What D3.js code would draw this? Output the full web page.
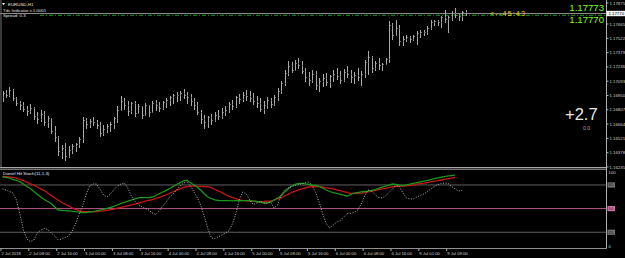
<!DOCTYPE html>
<html><head><meta charset="utf-8">
<script src="https://cdn.jsdelivr.net/npm/d3@7/dist/d3.min.js"></script>
<style>html,body{margin:0;padding:0;background:#000;}svg{display:block;}</style>
</head><body>
<svg id="c" width="625" height="258"></svg>
<script>
// ---------- DATA ----------
const symbol = "EURUSD,H1";
const infoLine2 = "Tds Indicator v.1.0001";
const infoLine3 = "Spread: 0.3";
const indicatorName = "Daniel Hit Stoch(11,1,3)";
const bidPrice = 1.17770;
const levelLine = 1.17752;
const askLabel = "1.17773";
const bidLabel = "1.17770";
const timerLabel = "<--45:43";
const bigValue = "+2.7";
const smallValue = "0.0";

const barHigh = [1.1700,1.1701,1.1704,1.1702,1.1694,1.1690,1.1689,1.1685,1.1687,1.1684,1.1679,1.1681,1.1680,1.1675,1.1673,1.1665,1.1655,1.1646,1.1648,1.1645,1.1647,1.1648,1.1654,1.1674,1.1673,1.1672,1.1674,1.1671,1.1669,1.1666,1.1667,1.1669,1.1674,1.1685,1.1695,1.1693,1.1690,1.1689,1.1690,1.1687,1.1685,1.1688,1.1686,1.1690,1.1691,1.1689,1.1690,1.1693,1.1695,1.1697,1.1699,1.1700,1.1702,1.1699,1.1697,1.1693,1.1689,1.1681,1.1676,1.1675,1.1677,1.1679,1.1681,1.1683,1.1685,1.1689,1.1691,1.1695,1.1697,1.1699,1.1701,1.1700,1.1698,1.1695,1.1693,1.1690,1.1694,1.1693,1.1696,1.1703,1.1710,1.1721,1.1730,1.1729,1.1731,1.1733,1.1730,1.1723,1.1719,1.1721,1.1720,1.1713,1.1717,1.1718,1.1716,1.1721,1.1723,1.1720,1.1722,1.1725,1.1721,1.1719,1.1723,1.1720,1.1731,1.1740,1.1735,1.1730,1.1733,1.1728,1.1733,1.1770,1.1768,1.1771,1.1766,1.1755,1.1756,1.1755,1.1756,1.1760,1.1761,1.1761,1.1765,1.1771,1.1771,1.1771,1.1775,1.1781,1.1775,1.1780,1.1783,1.1777,1.1780,1.1781];
const barLow = [1.1689,1.1693,1.1694,1.1690,1.1685,1.1681,1.1679,1.1675,1.1677,1.1671,1.1667,1.1669,1.1665,1.1663,1.1657,1.1649,1.1635,1.1632,1.1630,1.1633,1.1637,1.1639,1.1643,1.1648,1.1662,1.1663,1.1665,1.1662,1.1654,1.1655,1.1658,1.1659,1.1662,1.1668,1.1680,1.1681,1.1675,1.1677,1.1674,1.1677,1.1672,1.1675,1.1674,1.1679,1.1680,1.1679,1.1681,1.1683,1.1685,1.1687,1.1689,1.1690,1.1692,1.1687,1.1685,1.1681,1.1676,1.1667,1.1662,1.1663,1.1666,1.1669,1.1671,1.1672,1.1675,1.1678,1.1681,1.1683,1.1687,1.1689,1.1690,1.1689,1.1686,1.1683,1.1679,1.1677,1.1682,1.1683,1.1685,1.1690,1.1697,1.1705,1.1715,1.1718,1.1720,1.1722,1.1717,1.1709,1.1705,1.1708,1.1701,1.1699,1.1704,1.1705,1.1703,1.1709,1.1711,1.1707,1.1709,1.1713,1.1708,1.1707,1.1710,1.1705,1.1713,1.1716,1.1718,1.1720,1.1721,1.1720,1.1726,1.1728,1.1751,1.1755,1.1745,1.1745,1.1749,1.1748,1.1750,1.1746,1.1753,1.1755,1.1756,1.1761,1.1765,1.1765,1.1763,1.1768,1.1758,1.1770,1.1773,1.1770,1.1770,1.1775];
const barOpen = [1.1693,1.1698,1.1696,1.1701,1.1692,1.1687,1.1685,1.1682,1.1680,1.1683,1.1674,1.1671,1.1677,1.1668,1.1672,1.1660,1.1653,1.1640,1.1643,1.1635,1.1641,1.1644,1.1646,1.1651,1.1670,1.1666,1.1669,1.1668,1.1665,1.1658,1.1662,1.1664,1.1666,1.1672,1.1681,1.1689,1.1685,1.1680,1.1687,1.1678,1.1684,1.1676,1.1685,1.1679,1.1687,1.1685,1.1683,1.1688,1.1690,1.1693,1.1695,1.1696,1.1698,1.1695,1.1693,1.1689,1.1685,1.1679,1.1671,1.1668,1.1673,1.1670,1.1676,1.1674,1.1679,1.1681,1.1686,1.1684,1.1693,1.1691,1.1696,1.1694,1.1692,1.1689,1.1687,1.1682,1.1685,1.1690,1.1686,1.1693,1.1700,1.1707,1.1718,1.1724,1.1721,1.1727,1.1725,1.1720,1.1713,1.1710,1.1717,1.1705,1.1709,1.1712,1.1708,1.1714,1.1717,1.1714,1.1710,1.1719,1.1717,1.1713,1.1715,1.1713,1.1716,1.1728,1.1733,1.1723,1.1727,1.1725,1.1726,1.1731,1.1765,1.1755,1.1763,1.1749,1.1751,1.1753,1.1751,1.1754,1.1757,1.1758,1.1759,1.1763,1.1768,1.1769,1.1768,1.1773,1.1771,1.1773,1.1777,1.1775,1.1774,1.1778];
const barClose = [1.1698,1.1696,1.1701,1.1692,1.1687,1.1685,1.1682,1.1680,1.1683,1.1674,1.1671,1.1677,1.1668,1.1672,1.1660,1.1653,1.1640,1.1643,1.1635,1.1641,1.1644,1.1646,1.1651,1.1670,1.1666,1.1669,1.1668,1.1665,1.1658,1.1662,1.1664,1.1666,1.1672,1.1681,1.1689,1.1685,1.1680,1.1687,1.1678,1.1684,1.1676,1.1685,1.1679,1.1687,1.1685,1.1683,1.1688,1.1690,1.1693,1.1695,1.1696,1.1698,1.1695,1.1693,1.1689,1.1685,1.1679,1.1671,1.1668,1.1673,1.1670,1.1676,1.1674,1.1679,1.1681,1.1686,1.1684,1.1693,1.1691,1.1696,1.1694,1.1692,1.1689,1.1687,1.1682,1.1685,1.1690,1.1686,1.1693,1.1700,1.1707,1.1718,1.1724,1.1721,1.1727,1.1725,1.1720,1.1713,1.1710,1.1717,1.1705,1.1709,1.1712,1.1708,1.1714,1.1717,1.1714,1.1710,1.1719,1.1717,1.1713,1.1715,1.1713,1.1716,1.1728,1.1733,1.1723,1.1727,1.1725,1.1726,1.1731,1.1765,1.1755,1.1763,1.1749,1.1751,1.1753,1.1751,1.1754,1.1757,1.1758,1.1759,1.1763,1.1768,1.1769,1.1768,1.1773,1.1771,1.1773,1.1777,1.1775,1.1774,1.1778,1.1777];

const stochMain = [74.9,73.6,71.7,69.8,60.9,43.1,22.8,11.4,8.2,10.2,19.0,22.8,24.7,23.5,19.0,15.2,10.2,11.4,13.3,15.2,21.6,30.5,43.1,53.3,67.3,78.7,81.2,81.2,74.9,67.3,64.7,68.5,74.2,78.7,81.2,82.5,76.1,66.0,59.6,55.2,52.4,50.1,48.2,44.4,42.5,47.0,53.3,58.4,64.7,68.5,73.6,78.7,82.5,83.8,78.7,71.1,63.5,53.3,39.3,24.1,12.7,12.1,14.0,16.5,19.0,21.6,30.5,43.1,60.9,71.1,68.5,60.9,55.2,57.1,58.8,57.1,57.1,58.4,50.8,54.6,67.3,73.6,76.1,77.8,79.3,80.6,81.6,83.1,83.8,78.7,69.8,57.1,43.1,30.5,25.4,29.2,33.0,34.9,39.3,43.8,44.0,45.1,48.2,55.8,66.0,73.6,72.3,67.9,64.1,63.5,66.0,70.4,74.9,79.3,78.0,69.8,63.5,62.2,62.2,64.7,66.6,68.5,71.7,74.9,78.0,80.6,81.9,82.5,81.9,78.0,74.9,72.3,73.0];
const stochGreen = [90.1,89.5,88.8,86.9,85.7,84.1,81.2,78.0,75.5,71.7,67.9,64.7,61.5,59.0,56.5,52.0,48.2,47.8,47.5,47.0,46.6,46.2,45.4,44.9,45.0,45.7,46.1,47.0,48.2,49.1,50.4,51.4,52.7,54.6,56.5,57.9,59.4,60.9,62.4,63.7,64.2,64.0,64.1,64.7,66.6,68.9,71.1,73.2,75.5,78.0,80.6,82.9,85.3,85.7,82.9,79.9,77.0,73.0,68.5,64.7,62.7,61.2,60.3,60.0,60.0,60.0,59.9,60.0,60.1,60.0,60.0,60.0,59.6,59.0,58.4,57.1,57.1,58.6,60.9,63.5,66.0,71.1,74.9,78.7,80.6,81.9,82.1,81.5,80.6,79.9,79.3,78.0,75.8,73.6,71.7,70.2,69.2,68.1,67.0,66.0,67.9,69.5,70.3,71.1,71.7,72.3,73.1,74.2,75.8,77.2,78.4,79.9,81.2,80.6,79.9,79.3,80.2,81.2,82.1,83.0,83.8,84.8,85.5,86.9,87.9,89.1,89.8,90.7,91.4,91.9,92.4];
const stochRed = [91.0,90.6,90.1,89.7,88.6,86.9,85.4,83.4,81.5,79.7,77.4,75.1,73.0,69.8,66.5,63.5,60.5,57.7,55.5,53.3,51.0,49.1,47.5,46.3,46.1,46.1,46.1,46.3,46.7,47.0,47.8,48.6,49.2,50.5,51.6,52.5,53.6,54.8,55.8,57.1,58.2,59.4,60.5,61.5,62.7,64.2,65.7,67.6,69.5,71.4,73.4,75.4,77.0,77.8,78.4,78.7,78.4,78.2,78.0,77.5,76.6,74.2,72.3,70.2,67.9,65.7,64.1,62.6,61.2,60.4,59.9,59.6,59.4,59.0,58.8,59.0,59.4,59.6,60.9,62.2,63.7,66.0,68.1,70.4,72.3,73.9,75.1,76.4,77.4,77.8,77.8,77.8,77.4,76.4,75.8,74.9,73.9,72.7,71.6,70.4,69.4,69.4,69.4,69.7,70.4,71.1,72.0,73.0,74.0,74.9,75.8,76.8,77.7,78.2,78.7,78.7,78.9,79.3,79.9,81.0,81.7,82.2,83.0,83.8,84.8,85.5,86.3,87.1,87.9,88.8,89.6];

const priceTicks = [1.17875,1.17665,1.17522,1.17379,1.17236,1.17093,1.16950,1.16807,1.16664,1.16521,1.16378,1.16235];
const levelValues = [80,50,20];
const levelLabels = [100,0];
const timeTickIndex = [0,8,16,24,32,40,48,56,64,72,80,88,96,104,112,120,128];
const timeTickLabels = ["2 Jul 2018","2 Jul 08:00","2 Jul 16:00","3 Jul 00:00","3 Jul 08:00","3 Jul 16:00","4 Jul 00:00","4 Jul 08:00","4 Jul 16:00","5 Jul 00:00","5 Jul 08:00","5 Jul 16:00","6 Jul 00:00","6 Jul 08:00","6 Jul 16:00","9 Jul 01:00","9 Jul 09:00"];

// ---------- LAYOUT ----------
const W = 625, H = 258;
const axisX = 606.5;
const mainTop = 0, mainBottom = 168;
const indTop = 169.2, indBottom = 248;
const FONT = "'Liberation Sans', Arial, sans-serif";
const svg = d3.select("#c");
svg.append("rect").attr("width",W).attr("height",H).attr("fill","#000");

const n = barHigh.length;
const x = d3.scaleLinear().domain([0, n-1]).range([2.5, 2.5 + (n-1)*3.482]);
const y = d3.scaleLinear().domain([1.16225, 1.17905]).range([mainBottom, mainTop]);
const yi = d3.scaleLinear().domain([0, 100]).range([indBottom, indTop]);

const defs = svg.append("defs");
defs.append("clipPath").attr("id","mainClip").append("rect").attr("x",0).attr("y",0).attr("width",axisX).attr("height",mainBottom);
defs.append("clipPath").attr("id","indClip").append("rect").attr("x",0).attr("y",indTop-1).attr("width",axisX).attr("height",indBottom-indTop+1);

// ---------- MAIN CHART ----------
const main = svg.append("g").attr("clip-path","url(#mainClip)");
svg.append("line").attr("x1",1).attr("x2",1).attr("y1",0).attr("y2",mainBottom).attr("stroke","#707070").attr("stroke-width",1);

main.append("line").attr("x1",0).attr("x2",axisX).attr("y1",y(bidPrice)).attr("y2",y(bidPrice))
  .attr("stroke","#8a8a8a").attr("stroke-width",1);
main.append("line").attr("x1",40).attr("x2",axisX).attr("y1",y(levelLine)).attr("y2",y(levelLine))
  .attr("stroke","#1a9a1a").attr("stroke-width",1).attr("stroke-dasharray","4,2,1,2");

const bars = main.append("g").attr("stroke","#a8a8a8").attr("stroke-width",1).attr("shape-rendering","crispEdges");
d3.range(n).forEach(i => {
  const cx = Math.round(x(i)) + 0.5;
  bars.append("line").attr("x1",cx).attr("x2",cx).attr("y1",y(barHigh[i])).attr("y2",y(barLow[i]) + 0.5);
  bars.append("line").attr("x1",cx-1).attr("x2",cx).attr("y1",Math.round(y(barOpen[i]))+0.5).attr("y2",Math.round(y(barOpen[i]))+0.5).attr("stroke","#707070");
  bars.append("line").attr("x1",cx).attr("x2",cx+1).attr("y1",Math.round(y(barClose[i]))+0.5).attr("y2",Math.round(y(barClose[i]))+0.5).attr("stroke","#707070");
});

// top-left info
svg.append("path").attr("d","M2,3 L5,3 L3.5,5.5 Z").attr("fill","#e8e8e8");
svg.append("text").attr("x",8).attr("y",6.3).attr("font-family",FONT).attr("font-size",4.4).attr("fill","#e8e8e8").text(symbol);
svg.append("text").attr("x",3).attr("y",12).attr("font-family",FONT).attr("font-size",4.4).attr("fill","#e0e0e0").text(infoLine2);
svg.append("text").attr("x",3).attr("y",16.5).attr("font-family",FONT).attr("font-size",4.4).attr("fill","#e0e0e0").text(infoLine3);

// price labels on the right
svg.append("text").attr("x",604).attr("y",10.5).attr("text-anchor","end").attr("font-family",FONT).attr("font-size",9.6).attr("fill","#7cff1a").text(askLabel);
svg.append("text").attr("x",604).attr("y",23).attr("text-anchor","end").attr("font-family",FONT).attr("font-size",9.6).attr("fill","#7cff1a").text(bidLabel);
svg.append("text").attr("x",490).attr("y",16.4).attr("font-family",FONT).attr("font-size",7.2).attr("fill","#e6d600").attr("textLength",35).text(timerLabel);
svg.append("text").attr("x",565).attr("y",120).attr("font-family",FONT).attr("font-size",16.5).attr("fill","#e6e6e6").text(bigValue);
svg.append("text").attr("x",583).attr("y",129.5).attr("font-family",FONT).attr("font-size",5.2).attr("fill","#a8a8a8").text(smallValue);

// separators
svg.append("line").attr("x1",0).attr("x2",axisX).attr("y1",167.5).attr("y2",167.5).attr("stroke","#a8a8a8").attr("stroke-width",1);
svg.append("line").attr("x1",0).attr("x2",axisX).attr("y1",169.2).attr("y2",169.2).attr("stroke","#a8a8a8").attr("stroke-width",1);
svg.append("line").attr("x1",0).attr("x2",axisX).attr("y1",248.5).attr("y2",248.5).attr("stroke","#909090").attr("stroke-width",1);
svg.append("line").attr("x1",axisX).attr("x2",axisX).attr("y1",0).attr("y2",indBottom+0.5).attr("stroke","#b0b0b0").attr("stroke-width",1);

// price axis
const pa = svg.append("g");
priceTicks.forEach(p => {
  pa.append("line").attr("x1",axisX).attr("x2",axisX+2).attr("y1",y(p)).attr("y2",y(p)).attr("stroke","#b0b0b0");
  pa.append("text").attr("x",axisX+3).attr("y",y(p)+1.5).attr("font-family",FONT).attr("font-size",4.3).attr("fill","#d0d0d0").text(p.toFixed(5));
});
pa.append("rect").attr("x",axisX).attr("y",y(bidPrice)-2.7).attr("width",W-axisX).attr("height",5.4).attr("fill","#f4f4f4");
pa.append("text").attr("x",axisX+2).attr("y",y(bidPrice)+1.5).attr("font-family",FONT).attr("font-size",4.3).attr("fill","#000").text(bidPrice.toFixed(5));

// ---------- INDICATOR ----------
const ind = svg.append("g").attr("clip-path","url(#indClip)");
const levelColor = {80:"#606060",50:"#b85a88",20:"#606060"};
levelValues.forEach(v => {
  ind.append("line").attr("x1",0).attr("x2",axisX).attr("y1",yi(v)).attr("y2",yi(v)).attr("stroke",levelColor[v]).attr("stroke-width",1);
});
svg.append("text").attr("x",3).attr("y",174.8).attr("font-family",FONT).attr("font-size",4.4).attr("fill","#e8e8e8").text(indicatorName);

const line = d3.line().x((d,i) => x(i)).y(d => yi(d)).curve(d3.curveLinear);
ind.append("path").attr("d",line(stochRed)).attr("fill","none").attr("stroke","#cc1414").attr("stroke-width",1.3);
ind.append("path").attr("d",line(stochGreen)).attr("fill","none").attr("stroke","#1a961a").attr("stroke-width",1.3);
ind.append("path").attr("d",line(stochMain)).attr("fill","none").attr("stroke","#b8b8b8").attr("stroke-width",1).attr("stroke-dasharray","1,1.6");

levelValues.forEach(v => {
  svg.append("rect").attr("x",axisX+1).attr("y",yi(v)-2.6).attr("width",7.5).attr("height",5.2).attr("fill",v===50?"#d070a8":"#707070");
  svg.append("text").attr("x",axisX+2).attr("y",yi(v)+1.5).attr("font-family",FONT).attr("font-size",4.3).attr("fill","#202020").text(v);
});
levelLabels.forEach(v => {
  svg.append("text").attr("x",axisX+2).attr("y",(v===100? yi(v)+5 : yi(v)-0.5)).attr("font-family",FONT).attr("font-size",4.3).attr("fill","#d0d0d0").text(v);
});

// ---------- TIME AXIS ----------
const ta = svg.append("g");
timeTickIndex.forEach((ix,k) => {
  const tx = x(ix) - 1.5;
  ta.append("line").attr("x1",tx).attr("x2",tx).attr("y1",indBottom+0.5).attr("y2",indBottom+3).attr("stroke","#b0b0b0");
  ta.append("text").attr("x",tx+0.5).attr("y",254.6).attr("font-family",FONT).attr("font-size",4.2).attr("fill","#d0d0d0").text(timeTickLabels[k]);
});
</script>
</body></html>
